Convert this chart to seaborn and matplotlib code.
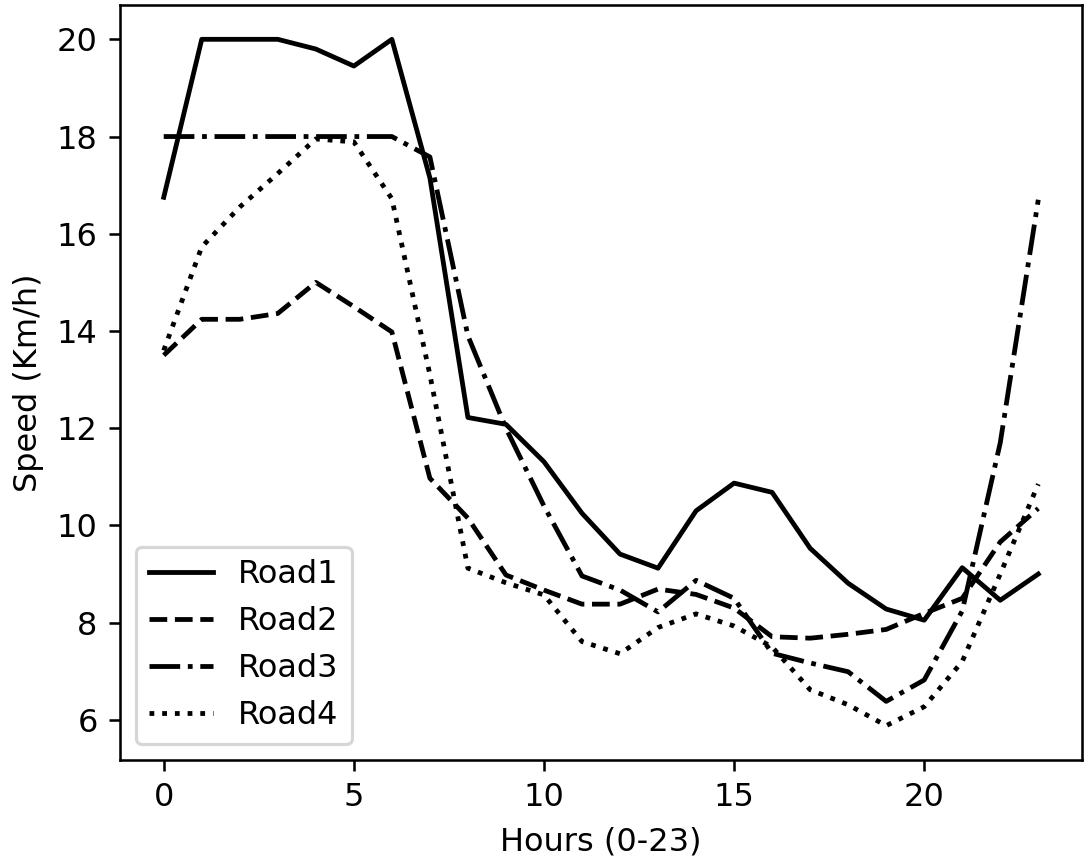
import matplotlib
matplotlib.use("Agg")
import matplotlib.pyplot as plt
import seaborn as sns
import pandas as pd

hours = list(range(24))
road1 = [16.75, 20.0, 20.0, 20.0, 19.8, 19.45, 20.0, 17.15, 12.22, 12.08, 11.31, 10.25,
         9.41, 9.12, 10.30, 10.87, 10.68, 9.53, 8.81, 8.28, 8.05, 9.13, 8.46, 9.00]
road2 = [13.5, 14.24, 14.24, 14.36, 15.0, 14.5, 13.98, 10.97, 10.15, 8.98, 8.67, 8.38,
         8.38, 8.69, 8.58, 8.30, 7.71, 7.68, 7.76, 7.86, 8.19, 8.50, 9.66, 10.35]
road3 = [18.0, 18.0, 18.0, 18.0, 18.0, 18.0, 18.0, 17.58, 13.9, 12.0, 10.4, 8.96,
         8.67, 8.22, 8.87, 8.50, 7.37, 7.17, 6.99, 6.38, 6.82, 8.24, 11.7, 16.7]
road4 = [13.6, 15.73, 16.55, 17.24, 17.95, 17.89, 16.72, 13.1, 9.12, 8.82, 8.57, 7.61,
         7.36, 7.90, 8.18, 7.93, 7.50, 6.62, 6.31, 5.88, 6.27, 7.20, 9.00, 10.85]

road_names = ["Road1", "Road2", "Road3", "Road4"]
line_styles = ["-", "--", "-.", ":"]

df = pd.DataFrame({"hour": hours, "Road1": road1, "Road2": road2,
                   "Road3": road3, "Road4": road4})

DPI = 230
plt.rcParams["font.size"] = 10
fig = plt.figure(figsize=(1091 / DPI, 858 / DPI), dpi=DPI)
ax = fig.add_axes([120 / 1091, (858 - 760) / 858, (1082 - 120) / 1091, (760 - 5) / 858])

for name, ls in zip(road_names, line_styles):
    sns.lineplot(data=df, x="hour", y=name, ax=ax, color="black",
                 linestyle=ls, linewidth=1.5, label=name)

ax.set_xlabel("Hours (0-23)")
ax.set_ylabel("Speed (Km/h)")
ax.set_xticks([0, 5, 10, 15, 20])
ax.set_yticks([6, 8, 10, 12, 14, 16, 18, 20])
ax.legend(loc="lower left")

fig.savefig("out.png", dpi=DPI)
